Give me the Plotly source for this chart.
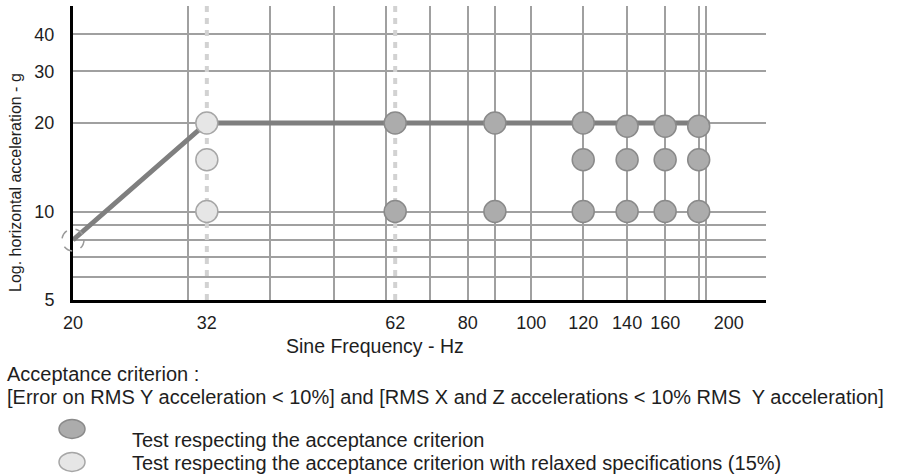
import math
import plotly.graph_objects as go

# ---------------- data ----------------
# specification profile (sine sweep): constant displacement up to 32 Hz, then 20 g
spec_freq = [20, 32, 187]
spec_acc = [8, 20, 20]

# tests respecting the acceptance criterion (dark dots)
ok_freq = [62, 62, 88, 88, 120, 120, 120, 140, 140, 140, 160, 160, 160, 180, 180, 180]
ok_acc = [20, 10, 20, 10, 20, 15, 10, 19.5, 15, 10, 19.5, 15, 10, 19.5, 15, 10]

# tests respecting the criterion with relaxed specifications (light dots)
relaxed_freq = [32, 32, 32]
relaxed_acc = [20, 15, 10]

# frequencies highlighted with dotted lines
dotted_freq = [32, 62]

# axis ticks / grid
x_tickvals = [20, 32, 62, 80, 100, 120, 140, 160, 200]
x_gridvals = [30, 40, 50, 60, 70, 80, 88, 100, 120, 140, 160, 180, 185]
y_tickvals = [5, 10, 20, 30, 40]
y_gridvals = [6, 7, 8, 9]

X_MIN, X_MAX = 20, 228
Y_MIN, Y_MAX = 5, 50

# ---------------- style ----------------
FONT = "Liberation Sans, Arial, sans-serif"
TXT = "#1e1e1e"
GRID = "#a0a0a0"
DARK_FILL, DARK_LINE = "#acacac", "#8a8a8a"
LIGHT_FILL, LIGHT_LINE = "#e6e6e6", "#a6a6a6"

W, H = 904, 475
ML, MR, MT, MB = 73, 138, 6, 175
PW, PH = W - ML - MR, H - MT - MB


def px(xp):
    return (xp - ML) / PW


def py(yp):
    return (H - MB - yp) / PH


fig = go.Figure()

# dotted lines at highlighted frequencies
for f in dotted_freq:
    fig.add_trace(go.Scatter(
        x=[f, f], y=[Y_MIN, Y_MAX], mode="lines",
        line=dict(color="#d2d2d2", width=4, dash="6px,6px"),
        hoverinfo="skip", showlegend=False))

# specification line
fig.add_trace(go.Scatter(
    x=spec_freq, y=spec_acc, mode="lines",
    line=dict(color="#7f7f7f", width=5),
    showlegend=False, name="Specification"))

# relaxed tests
fig.add_trace(go.Scatter(
    x=relaxed_freq, y=relaxed_acc, mode="markers",
    marker=dict(size=22, color=LIGHT_FILL, line=dict(color=LIGHT_LINE, width=1.5)),
    showlegend=False, cliponaxis=False,
    name="Test respecting the acceptance criterion with relaxed specifications (15%)"))

# tests OK
fig.add_trace(go.Scatter(
    x=ok_freq, y=ok_acc, mode="markers",
    marker=dict(size=22, color=DARK_FILL, line=dict(color=DARK_LINE, width=1.5)),
    showlegend=False, cliponaxis=False,
    name="Test respecting the acceptance criterion"))

# dashed circle at the start of the profile (paper units derived from the data,
# so that the half outside the plotting area is not clipped)
lx0, lx1 = math.log10(X_MIN), math.log10(X_MAX)
ly0, ly1 = math.log10(Y_MIN), math.log10(Y_MAX)
start_px = (math.log10(spec_freq[0]) - lx0) / (lx1 - lx0)
start_py = (math.log10(spec_acc[0]) - ly0) / (ly1 - ly0)
fig.add_shape(
    type="circle", xref="paper", yref="paper",
    xsizemode="pixel", ysizemode="pixel",
    xanchor=start_px, yanchor=start_py,
    x0=-11, x1=11, y0=-11, y1=11,
    line=dict(color="#9a9a9a", width=1.5, dash="dash"), layer="above")

# legend glyphs (ellipses) below the chart
fig.add_shape(type="circle", xref="paper", yref="paper",
              xsizemode="pixel", ysizemode="pixel",
              xanchor=px(72), yanchor=py(429), x0=-13, x1=13, y0=-9.5, y1=9.5,
              fillcolor=DARK_FILL, line=dict(color=DARK_LINE, width=1.5))
fig.add_shape(type="circle", xref="paper", yref="paper",
              xsizemode="pixel", ysizemode="pixel",
              xanchor=px(72), yanchor=py(462), x0=-13, x1=13, y0=-9.5, y1=9.5,
              fillcolor=LIGHT_FILL, line=dict(color=LIGHT_LINE, width=1.5))

ann = [
    dict(text="Sine Frequency - Hz", x=px(375), y=py(346), font_size=19.5),
    dict(text="Log. horizontal acceleration - g", x=px(15), y=py(183),
         textangle=-90, font_size=16),
    dict(text="Acceptance criterion :", x=px(5), y=py(374), xanchor="left", font_size=20),
    dict(text="[Error on RMS Y acceleration &lt; 10%] and "
              "[RMS X and Z accelerations &lt; 10% RMS  Y acceleration]",
         x=px(5), y=py(397), xanchor="left", font_size=20),
    dict(text="Test respecting the acceptance criterion",
         x=px(130), y=py(440), xanchor="left", font_size=20),
    dict(text="Test respecting the acceptance criterion with relaxed specifications (15%)",
         x=px(130), y=py(463), xanchor="left", font_size=20),
]
for a in ann:
    a.setdefault("xanchor", "center")
    fig.add_annotation(xref="paper", yref="paper", yanchor="middle",
                       showarrow=False, font=dict(family=FONT, color=TXT,
                                                  size=a.pop("font_size")), **a)

fig.update_xaxes(
    type="log", range=[lx0, lx1],
    tickmode="array", tickvals=x_tickvals, ticktext=[str(v) for v in x_tickvals],
    showgrid=False, zeroline=False,
    showline=True, linecolor="black", linewidth=3,
    ticks="", ticklabelstandoff=4,
    tickfont=dict(family=FONT, size=18, color=TXT),
    minor=dict(tickmode="array", tickvals=x_gridvals, showgrid=True,
               gridcolor=GRID, gridwidth=1.6, ticks=""),
)
fig.update_yaxes(
    type="log", range=[ly0, ly1],
    tickmode="array", tickvals=y_tickvals, ticktext=[str(v) for v in y_tickvals],
    showgrid=True, gridcolor=GRID, gridwidth=1.6, zeroline=False,
    showline=True, linecolor="black", linewidth=3,
    ticks="", ticklabelstandoff=12,
    tickfont=dict(family=FONT, size=18, color=TXT),
    minor=dict(tickmode="array", tickvals=y_gridvals, showgrid=True,
               gridcolor=GRID, gridwidth=1.6, ticks=""),
)

fig.update_layout(
    width=W, height=H,
    margin=dict(l=ML, r=MR, t=MT, b=MB, pad=0),
    paper_bgcolor="white", plot_bgcolor="white",
    font=dict(family=FONT, color=TXT),
    showlegend=False,
)

fig.write_html("out.html",
               config={"displayModeBar": False},
               post_script="document.body.style.margin='0';"
                           "document.body.style.overflow='hidden';")
